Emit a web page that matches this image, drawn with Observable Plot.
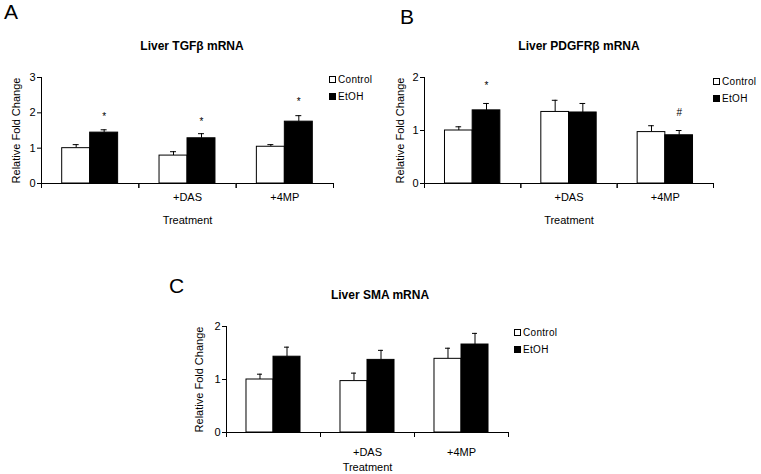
<!DOCTYPE html>
<html><head><meta charset="utf-8">
<script src="https://cdn.jsdelivr.net/npm/d3@7"></script>
<script src="https://cdn.jsdelivr.net/npm/@observablehq/plot@0.6"></script>
<style>
body{margin:0;background:#fff;font-family:"Liberation Sans",Arial,sans-serif;color:#000;}
#root{position:relative;width:761px;height:474px;overflow:hidden;background:#fff;}
.abs{position:absolute;}
.letter{font-size:21px;line-height:1;}
.title{font-size:12px;font-weight:bold;transform:translateX(-50%);white-space:nowrap;line-height:1;}
.legend{font-size:10px;line-height:1;}
.legend .row{display:flex;align-items:center;height:17px;letter-spacing:0.3px;}
.sw{width:5px;height:5px;border:1px solid #000;margin-right:2px;}
</style></head>
<body><div id="root"></div>
<script>
// ---- data ----
const treatmentLabels = ["", "+DAS", "+4MP"];
const groups = ["Control", "EtOH"];

// Panel A: Liver TGFβ mRNA
const tgfControl = [1.00, 0.79, 1.04];
const tgfControlErr = [0.10, 0.11, 0.06];
const tgfEtoh = [1.44, 1.28, 1.75];
const tgfEtohErr = [0.08, 0.13, 0.17];
const tgfMarks = ["*", "*", "*"];
const tgfMarkY = [1.95, 1.79, 2.36];

// Panel B: Liver PDGFRβ mRNA
const pdgfControl = [1.00, 1.35, 0.97];
const pdgfControlErr = [0.07, 0.22, 0.12];
const pdgfEtoh = [1.38, 1.34, 0.91];
const pdgfEtohErr = [0.13, 0.17, 0.09];
const pdgfMarks = ["*", "", "#"];
const pdgfMarkY = [1.89, null, 1.38];

// Panel C: Liver SMA mRNA
const smaControl = [1.00, 0.97, 1.39];
const smaControlErr = [0.10, 0.15, 0.20];
const smaEtoh = [1.43, 1.37, 1.66];
const smaEtohErr = [0.18, 0.18, 0.21];
const smaMarks = ["", "", ""];
const smaMarkY = [null, null, null];

function panel(o) {
  const rows = [];
  treatmentLabels.forEach((_, i) => {
    rows.push({t: i, g: "Control", v: o.control[i], e: o.controlErr[i]});
    rows.push({t: i, g: "EtOH", v: o.etoh[i], e: o.etohErr[i]});
  });
  const sig = treatmentLabels.map((_, i) => ({t: i, g: "EtOH", y: o.markY[i], s: o.marks[i]})).filter(d => d.s);
  const bw = (o.width - o.mL - o.mR) / 3;
  return Plot.plot({
    width: o.width, height: o.height,
    marginLeft: o.mL, marginRight: o.mR, marginTop: o.mT, marginBottom: o.mB,
    style: {fontFamily: "Liberation Sans, Arial, sans-serif", fontSize: "11px", color: "#000", background: "transparent", overflow: "visible"},
    fx: {domain: [0, 1, 2], padding: 0, round: false},
    x: {domain: groups, paddingInner: 0, paddingOuter: 0.74, round: false, axis: null},
    y: {domain: [0, o.yMax]},
    color: {domain: groups, range: ["#fff", "#000"]},
    marks: [
      Plot.ruleY([0], {stroke: "#000"}),
      Plot.frame({anchor: "left", facetAnchor: "left", stroke: "#000"}),
      Plot.axisY({ticks: d3.range(0, o.yMax + 1), tickSize: 4, tickPadding: 2, tickFormat: d => d,
        label: "Relative Fold Change", labelAnchor: "center", labelArrow: "none", labelOffset: o.yLabelOffset}),
      Plot.axisFx({anchor: "bottom", tickSize: 5, tickFormat: () => "", label: null, dx: -bw / 2}),
      Plot.axisFx({anchor: "bottom", tickSize: 5, tickFormat: () => "", label: null, dx: bw / 2}),
      Plot.axisFx({anchor: "bottom", tickSize: 0, tickPadding: o.tickPad, tickFormat: i => treatmentLabels[i],
        label: "Treatment", labelAnchor: "center", labelArrow: "none", labelOffset: o.xLabelOffset}),
      Plot.ruleX(rows, {fx: "t", x: "g", y1: "v", y2: d => d.v + d.e, stroke: "#000"}),
      Plot.tickY(rows, {fx: "t", x: "g", y: d => d.v + d.e, inset: 11, stroke: "#000"}),
      Plot.barY(rows, {fx: "t", x: "g", y: "v", fill: "g", stroke: "#000", strokeWidth: 1}),
      Plot.text(sig, {fx: "t", x: "g", y: "y", text: "s", fontSize: 10, dy: 2, fill: "#000"})
    ]
  });
}

const root = document.getElementById("root");
function place(el, left, top) {
  el.style.position = "absolute"; el.style.left = left + "px"; el.style.top = top + "px";
  root.appendChild(el);
}
function html(cls, text, left, top) {
  const d = document.createElement("div"); d.className = cls; d.textContent = text;
  place(d, left, top); return d;
}
function legend(left, top) {
  const d = document.createElement("div"); d.className = "legend";
  groups.forEach((g, i) => {
    const r = document.createElement("div"); r.className = "row";
    const s = document.createElement("span"); s.className = "sw";
    s.style.background = i === 0 ? "#fff" : "#000";
    r.appendChild(s); r.appendChild(document.createTextNode(g)); d.appendChild(r);
  });
  place(d, left, top);
}

place(panel({control: tgfControl, controlErr: tgfControlErr, etoh: tgfEtoh, etohErr: tgfEtohErr,
  marks: tgfMarks, markY: tgfMarkY, yMax: 3, width: 380, height: 170, mL: 41, mR: 47, mT: 17, mB: 47,
  tickPad: 10, xLabelOffset: 40, yLabelOffset: 29}), 0, 60);
place(panel({control: pdgfControl, controlErr: pdgfControlErr, etoh: pdgfEtoh, etohErr: pdgfEtohErr,
  marks: pdgfMarks, markY: pdgfMarkY, yMax: 2, width: 381, height: 170, mL: 44, mR: 48, mT: 17, mB: 47,
  tickPad: 10, xLabelOffset: 40, yLabelOffset: 28}), 380, 60);
place(panel({control: smaControl, controlErr: smaControlErr, etoh: smaEtoh, etohErr: smaEtohErr,
  marks: smaMarks, markY: smaMarkY, yMax: 2, width: 430, height: 165, mL: 76, mR: 72, mT: 16, mB: 43,
  tickPad: 16, xLabelOffset: 38, yLabelOffset: 31}), 150, 310);

html("abs letter", "A", 4, 1);
html("abs letter", "B", 400, 6);
html("abs letter", "C", 169, 275);
html("abs title", "Liver TGFβ mRNA", 192, 40);
html("abs title", "Liver PDGFRβ mRNA", 579, 40);
html("abs title", "Liver SMA mRNA", 380, 289);
legend(329, 71);
legend(713, 73);
legend(514, 324);
</script>
</body></html>
